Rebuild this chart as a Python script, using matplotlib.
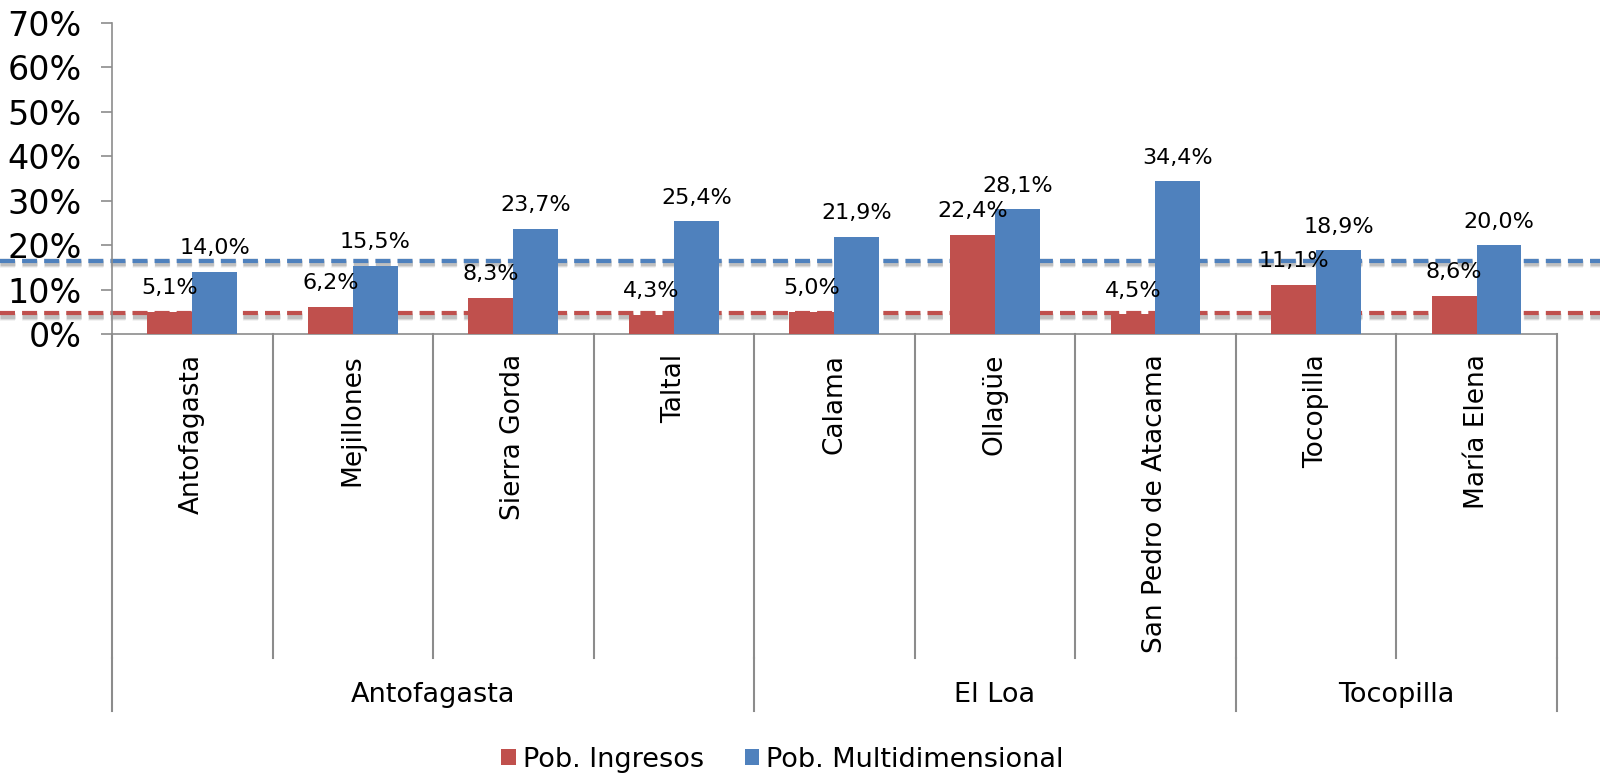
from matplotlib import pyplot as plt
from matplotlib import patheffects as pe
import numpy as np

comunas = ["Antofagasta", "Mejillones", "Sierra Gorda", "Taltal", "Calama", "Ollagüe",
           "San Pedro de Atacama", "Tocopilla", "María Elena"]
provincias = ["Antofagasta", "El Loa", "Tocopilla"]
prov_limites = [-0.5, 3.5, 6.5, 8.5]

ingresos = [5.1, 6.2, 8.3, 4.3, 5.0, 22.4, 4.5, 11.1, 8.6]
multidim = [14.0, 15.5, 23.7, 25.4, 21.9, 28.1, 34.4, 18.9, 20.0]
# regional reference levels (dashed lines)
regional_ingresos = 4.8
regional_multidim = 16.6

ROJO = "#C0504D"
AZUL = "#4F81BD"
GRIS = "#8C8C8C"


def main():
    plt.rcParams["font.family"] = ["DejaVu Sans"]
    fig = plt.figure(figsize=(16, 7.77), dpi=100)
    ax = fig.add_axes([0.07, 0.5695, 0.903, 0.4009])

    x = np.arange(len(comunas))
    w = 0.28
    b1 = ax.bar(x - w / 2, ingresos, w, color=ROJO, label="Pob. Ingresos", zorder=3)
    b2 = ax.bar(x + w / 2, multidim, w, color=AZUL, label="Pob. Multidimensional", zorder=3)

    for bars, vals in ((b1, ingresos), (b2, multidim)):
        for r, v in zip(bars, vals):
            ax.annotate("{:.1f}%".format(v).replace(".", ","),
                        (r.get_x() + r.get_width() / 2, v),
                        xytext=(0, 10), textcoords="offset points",
                        ha="center", va="bottom", fontsize=16, zorder=5)

    # dashed regional lines across the whole figure, with a soft shadow
    sombra = [pe.SimpleLineShadow(offset=(0, -2), shadow_color="k", alpha=a, linewidth=lw)
              for lw, a in ((7, 0.06), (5, 0.09), (3.5, 0.12))] + [pe.Normal()]
    for y, c in ((regional_ingresos, ROJO), (regional_multidim, AZUL)):
        ax.axhline(y, xmin=-112 / 1445, xmax=1 + 45 / 1445, color=c, lw=3,
                   dashes=(3.6, 1.7), clip_on=False, zorder=2, path_effects=sombra)

    ax.set_xlim(-0.5, 8.5)
    ax.set_ylim(0, 70)
    ax.set_yticks(range(0, 71, 10))
    ax.set_yticklabels(["{}%".format(t) for t in range(0, 71, 10)], fontsize=24)
    ax.tick_params(axis="y", length=8, width=1.2, color=GRIS, pad=14)

    ax.set_xticks(x)
    ax.set_xticklabels(comunas, rotation=90, fontsize=19, va="top")
    ax.tick_params(axis="x", length=0, pad=14)

    for s in ("top", "right"):
        ax.spines[s].set_visible(False)
    for s in ("left", "bottom"):
        ax.spines[s].set_color(GRIS)
        ax.spines[s].set_linewidth(1.2)

    # category separators and province separators below the axis
    trans = ax.get_xaxis_transform()
    for xs in np.arange(-0.5, 9, 1.0):
        ax.plot([xs, xs], [0, -1.038], color=GRIS, lw=1.5, transform=trans, clip_on=False)
    for xs in prov_limites:
        ax.plot([xs, xs], [-1.038, -1.209], color=GRIS, lw=1.5, transform=trans, clip_on=False)
    for i, p in enumerate(provincias):
        xc = (prov_limites[i] + prov_limites[i + 1]) / 2
        ax.text(xc, -1.157, p, transform=trans, ha="center", va="center", fontsize=19.5)

    fig.legend(handles=[b1, b2], loc="center", bbox_to_anchor=(0.489, 0.022), ncol=2,
               frameon=False, fontsize=19.5, handlelength=0.55, handleheight=0.55,
               handletextpad=0.25, columnspacing=1.5)

    fig.savefig("out.png", dpi=100)


if __name__ == "__main__":
    main()
